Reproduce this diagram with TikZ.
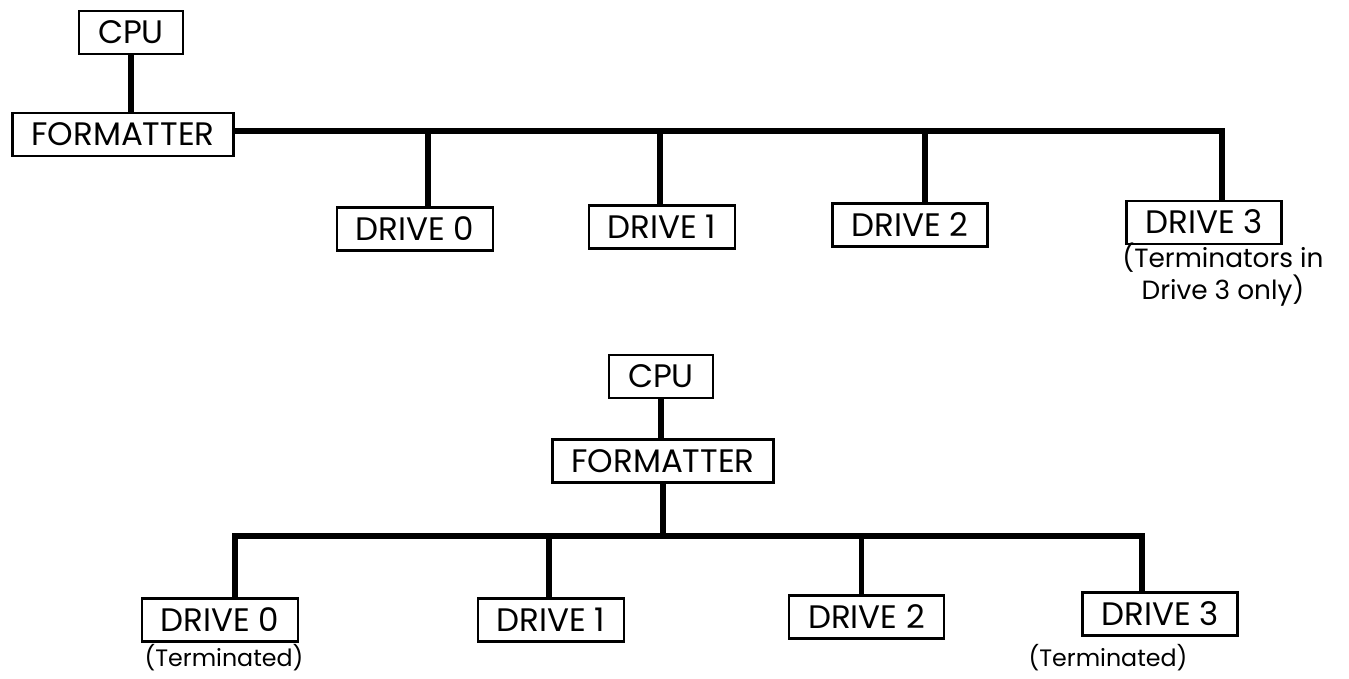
\documentclass[tikz,border=0pt]{standalone}
\usepackage{fontspec}
\setmainfont{Poppins}
\begin{document}
\begin{tikzpicture}
	\tikzset{boite/.style={rectangle, draw=black, line width=1.4pt, text height=0.45cm, text depth=0pt,
		minimum height=0.86cm, inner xsep=0.38cm, font=\fontsize{18.5}{20}\selectfont},
	bus/.style={line width=3pt},
	remarque/.style={align=center, inner sep=0pt, font=\fontsize{15}{16.5}\selectfont}};

	\useasboundingbox (0, 0) rectangle (26.98, -13.56);

	% premier montage
	\node[boite] (cpu1) at (2.62, -0.65) {CPU};
	\node[boite] (fmt1) at (2.46, -2.69) {FORMATTER};
	\node[boite] (d10) at (8.30, -4.58) {DRIVE 0};
	\node[boite] (d11) at (13.24, -4.54) {DRIVE 1};
	\node[boite] (d12) at (18.20, -4.50) {DRIVE 2};
	\node[boite] (d13) at (24.08, -4.45) {DRIVE 3};
	\node[remarque] (n13) at (24.46, -5.49) {(Terminators in\\Drive 3 only)};
	\coordinate (b1) at (24.44, -2.62);

	\draw[bus] (cpu1) -- (cpu1 |- fmt1.north);
	\draw[bus] (fmt1.east |- b1) -- (b1) -- (b1 |- d13.north);
	\foreach \d/\s in {d10/0.26, d11/-0.04, d12/0.30}{
		\draw[bus] ([xshift=\s cm]\d.north) -- ([xshift=\s cm]\d.north |- b1);
	}

	% second montage
	\node[boite] (cpu2) at (13.22, -7.53) {CPU};
	\node[boite] (fmt2) at (13.26, -9.22) {FORMATTER};
	\node[boite] (d20) at (4.40, -12.40) {DRIVE 0};
	\node[boite] (d21) at (11.02, -12.40) {DRIVE 1};
	\node[boite] (d22) at (17.33, -12.34) {DRIVE 2};
	\node[boite] (d23) at (23.20, -12.28) {DRIVE 3};
	\node[remarque, font=\fontsize{13.5}{15}\selectfont] (n20) at (4.48, -13.16) {(Terminated)};
	\node[remarque, font=\fontsize{13.5}{15}\selectfont] (n23) at (22.16, -13.16) {(Terminated)};
	\coordinate (b2) at (13.26, -10.72);

	\draw[bus] (cpu2) -- (cpu2 |- fmt2.north);
	\draw[bus] (fmt2) -- (b2);
	\draw[bus] ([xshift=0.30cm]d20.north) |- ([xshift=-0.36cm]d23.north |- b2) -- ([xshift=-0.36cm]d23.north);
	\foreach \d/\s in {d21/-0.04, d22/-0.10}{
		\draw[bus] ([xshift=\s cm]\d.north) -- ([xshift=\s cm]\d.north |- b2);
	}

\end{tikzpicture}
\end{document}
